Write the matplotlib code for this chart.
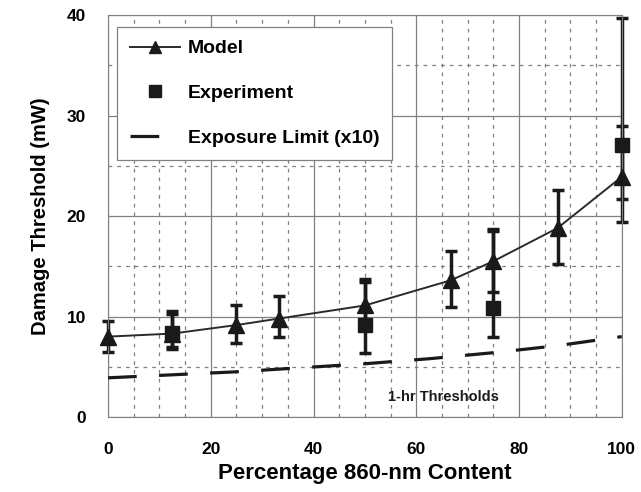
import matplotlib
matplotlib.use("Agg")
import matplotlib.pyplot as plt
from matplotlib.ticker import MultipleLocator

plt.rcParams['font.family'] = ['Liberation Sans', 'DejaVu Sans']
plt.rcParams['font.weight'] = 'bold'

# Model
model_x = [0, 12.5, 25, 33.3, 50, 66.7, 75, 87.5, 100]
model_y = [8.0, 8.3, 9.15, 9.8, 11.1, 13.6, 15.5, 18.8, 23.9]
model_lo = [6.5, 7.0, 7.4, 8.0, 9.6, 10.9, 12.4, 15.2, 19.4]
model_hi = [9.6, 10.3, 11.1, 12.0, 13.4, 16.5, 18.7, 22.6, 29.0]

# Experiment
exp_x = [12.5, 50, 75, 100]
exp_y = [8.4, 9.2, 10.8, 27.1]
exp_lo = [6.8, 6.4, 8.0, 21.7]
exp_hi = [10.5, 13.7, 18.5, 39.7]

# Exposure limit (x10)
lim_x = [0, 12.5, 25, 37.5, 50, 62.5, 75, 87.5, 100]
lim_y = [3.9, 4.2, 4.5, 4.9, 5.3, 5.8, 6.4, 7.1, 8.0]

fig = plt.figure(figsize=(6.41, 4.92), dpi=100)
ax = fig.add_axes([0.1685, 0.1524, 0.8015, 0.8171])

ax.set_xlim(0, 100)
ax.set_ylim(0, 40)
ax.xaxis.set_major_locator(MultipleLocator(20))
ax.xaxis.set_minor_locator(MultipleLocator(5))
ax.yaxis.set_major_locator(MultipleLocator(10))
ax.yaxis.set_minor_locator(MultipleLocator(5))
ax.grid(which='major', color='#808080', lw=0.9, ls='-')
ax.grid(which='minor', color='#808080', lw=0.9, ls=(0, (3, 4)))
ax.set_axisbelow(True)
for s in ax.spines.values():
    s.set_color('#808080')
ax.tick_params(which='both', length=0)
ax.tick_params(axis='x', pad=18, labelsize=12.5)
ax.tick_params(axis='y', pad=16, labelsize=12.5)

# error bars
for xs, ys, lo, hi in [(model_x, model_y, model_lo, model_hi),
                       (exp_x, exp_y, exp_lo, exp_hi)]:
    eb = ax.errorbar(xs, ys,
                     yerr=[[y - l for y, l in zip(ys, lo)],
                           [h - y for y, h in zip(ys, hi)]],
                     fmt='none', ecolor='#1a1a1a', elinewidth=2.5,
                     capsize=4, capthick=2.5)
    for art in eb.lines[1] + eb.lines[2]:
        art.set_clip_on(False)

ax.plot(model_x, model_y, color='#2a2a2a', lw=1.4, marker='^', ms=11,
        mfc='#1a1a1a', mec='#1a1a1a', label='Model', clip_on=False, zorder=4)
ax.plot(exp_x, exp_y, ls='none', marker='s', ms=10, mfc='#1a1a1a', mec='#1a1a1a',
        label='Experiment', clip_on=False, zorder=5)
ax.plot(lim_x, lim_y, color='#1a1a1a', lw=2.3, ls=(0, (9, 7)),
        label='Exposure Limit (x10)', zorder=3)

ax.text(65.2, 2.0, '1-hr Thresholds', fontsize=10.5, fontweight='bold',
        ha='center', va='center', color='#1a1a1a')

leg = ax.legend(loc='upper left', bbox_to_anchor=(0.0175, 0.97), borderaxespad=0,
                prop={'size': 14, 'weight': 'bold'}, frameon=True, fancybox=False,
                edgecolor='#808080', framealpha=1, labelspacing=1.4,
                handlelength=2.6, borderpad=0.65, handletextpad=0.4,
                markerscale=0.8)
leg.get_frame().set_linewidth(0.9)

ax.set_xlabel('Percentage 860-nm Content', fontsize=16, fontweight='bold', labelpad=4)
ax.set_ylabel('Damage Threshold (mW)', fontsize=14.5, fontweight='bold', labelpad=12)

fig.savefig('out.png', dpi=100)
